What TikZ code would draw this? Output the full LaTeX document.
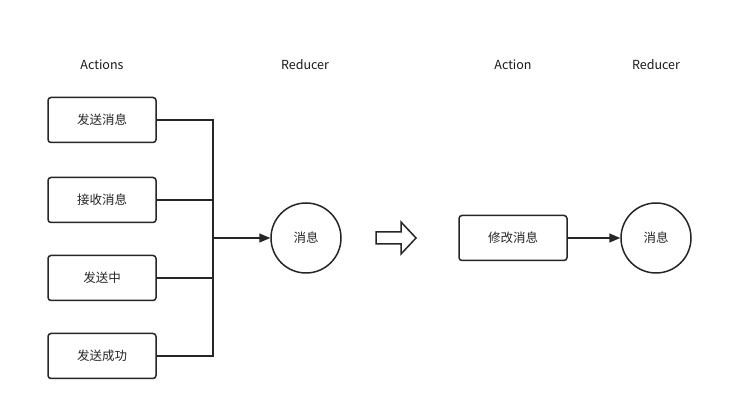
\documentclass[tikz,border=0pt]{standalone}
\usepackage{fontspec}
\setmainfont{Noto Sans CJK SC}
\usetikzlibrary{arrows.meta}
\begin{document}
\begin{tikzpicture}[x=1pt,y=-1pt,
  act/.style={draw=black!85,line width=1.5pt,rounded corners=3pt,minimum width=108pt,minimum height=45pt,inner sep=0pt,font=\fontsize{12.5}{14}\selectfont,text=black!85},
  red/.style={draw=black!85,line width=1.5pt,circle,minimum size=70pt,inner sep=0pt,font=\fontsize{12.5}{14}\selectfont,text=black!85},
  lbl/.style={font=\fontsize{12.5}{14}\selectfont,text=black!90},
  conn/.style={draw=black!85,line width=1.5pt},
  tip/.style={-{Triangle[length=11pt,width=9pt]}},
  hollow/.style={draw=black!85,line width=1.5pt,line join=miter,fill=white}]
\useasboundingbox (0,0) rectangle (731,411);
\fill[white] (0,0) rectangle (731,411);
\node[lbl] (l1) at (102,65) {Actions};
\node[lbl] (l2) at (305,65) {Reducer};
\node[lbl] (l3) at (513,65) {Action};
\node[lbl] (l4) at (656,65) {Reducer};
\node[act] (a1) at (102,120) {发送消息};
\node[act] (a2) at (102,200) {接收消息};
\node[act] (a3) at (102,278) {发送中};
\node[act] (a4) at (102,356) {发送成功};
\node[red] (r1) at (306,238) {消息};
\coordinate (j) at (213,238);
\draw[conn] (a1.east) -| (j);
\draw[conn] (a2.east) -| (j);
\draw[conn] (a3.east) -| (j);
\draw[conn] (a4.east) -| (j);
\draw[conn,tip] (j) -- (r1.west);
\draw[hollow] (376,232) -- (401,232) -- (401,222) -- (416,238) -- (401,254) -- (401,244) -- (376,244) -- cycle;
\node[act] (b1) at (513,238) {修改消息};
\node[red] (r2) at (656,238) {消息};
\draw[conn,tip] (b1.east) -- (r2.west);
\end{tikzpicture}
\end{document}
